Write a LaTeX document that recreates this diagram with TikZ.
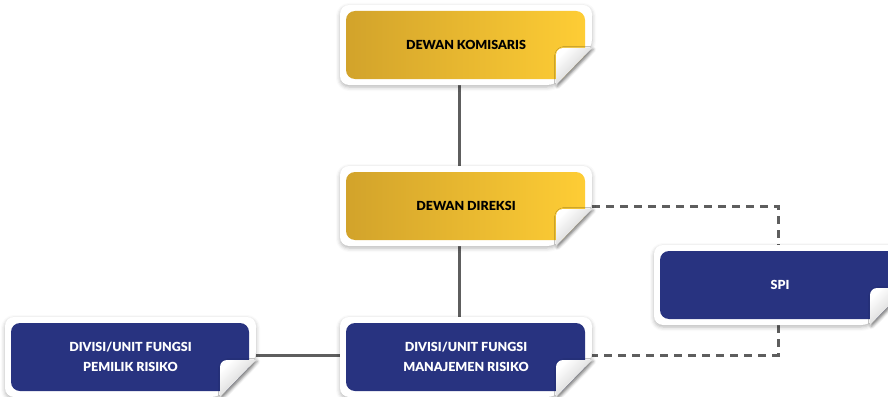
\documentclass[tikz,border=0pt]{standalone}
\usepackage{fontspec}
\setmainfont{Lato}[BoldFont={Lato Black}]
\usetikzlibrary{shadows.blur,backgrounds}

\definecolor{goldL}{HTML}{D2A32B}
\definecolor{goldR}{HTML}{FECD35}
\definecolor{navy}{HTML}{283380}
\definecolor{linkgray}{HTML}{5E5E5E}

\tikzset{
  goldfill/.style={left color=goldL, right color=goldR},
  navyfill/.style={fill=navy},
  boxlabel/.style={font=\fontsize{12.5}{20.5}\selectfont\bfseries, align=center, inner sep=0pt},
  solidlink/.style={draw=linkgray, line width=3pt},
  dashedlink/.style={draw=linkgray, line width=3pt, dash pattern=on 8pt off 6pt},
  frameshadow/.style={blur shadow={shadow xshift=0pt, shadow yshift=-2pt, shadow blur radius=4pt, shadow opacity=30}},
  foldshadow/.style={blur shadow={shadow xshift=1.5pt, shadow yshift=-1.5pt, shadow blur radius=3pt, shadow opacity=40}},
}

% #1 name, #2-#5 outer frame (x0,y0,x1,y1), #6 fill style, #7 text colour, #8 text
\newcommand\orgbox[8]{%
  \fill[white, rounded corners=9, frameshadow]
    (#2,#3) -- (#4,#3) -- (#4,{#5-37}) -- ({#4-36},#5) -- (#2,#5) -- cycle;
  \begin{scope}
    \clip (#2,#3) -- (#4,#3) -- (#4,{#5-37}) -- ({#4-36},#5) -- (#2,#5) -- cycle;
    \path[#6, rounded corners=9] ({#2+6},{#3+6}) rectangle ({#4-7},{#5-6});
  \end{scope}
  \shade[top color=white, bottom color=gray!45, shading angle=45, foldshadow]
    (#4,{#5-37}) -- ({#4-29},{#5-37}) to[out=180,in=90] ({#4-36},{#5-30})
    -- ({#4-36},#5) -- cycle;
  \node[boxlabel, text=#7, minimum width={(#4-#2)*1pt}, minimum height={(#5-#3)*1pt}]
    (#1) at ({(#2+#4)/2},{(#3+#5)/2}) {#8};
}

\begin{document}
\begin{tikzpicture}[x=1pt, y=-1pt]
  \useasboundingbox (0,0) rectangle (888,396);

  \orgbox{kom}{340}{5}{592}{85}{goldfill}{black}{DEWAN KOMISARIS}
  \orgbox{dir}{340}{166}{592}{246}{goldfill}{black}{DEWAN DIREKSI}
  \orgbox{spi}{654}{245}{906}{325}{navyfill}{white}{SPI}
  \orgbox{pem}{5}{317}{256}{397}{navyfill}{white}{DIVISI/UNIT FUNGSI\\PEMILIK RISIKO}
  \orgbox{man}{340}{317}{592}{397}{navyfill}{white}{DIVISI/UNIT FUNGSI\\MANAJEMEN RISIKO}

  \begin{scope}[on background layer]
    \draw[solidlink] ([xshift=-7pt]kom.south) -- ([xshift=-7pt]dir.north);
    \draw[solidlink] ([xshift=-7pt]dir.south) -- ([xshift=-7pt]man.north);
    \draw[solidlink] (pem.east |- 0,355) -- (man.west |- 0,355);
    \draw[dashedlink] (dir.east) -| ([xshift=-2pt]spi.north);
    \draw[dashedlink] ([xshift=-2pt]spi.south) |- (man.east |- 0,355);
  \end{scope}
\end{tikzpicture}
\end{document}
